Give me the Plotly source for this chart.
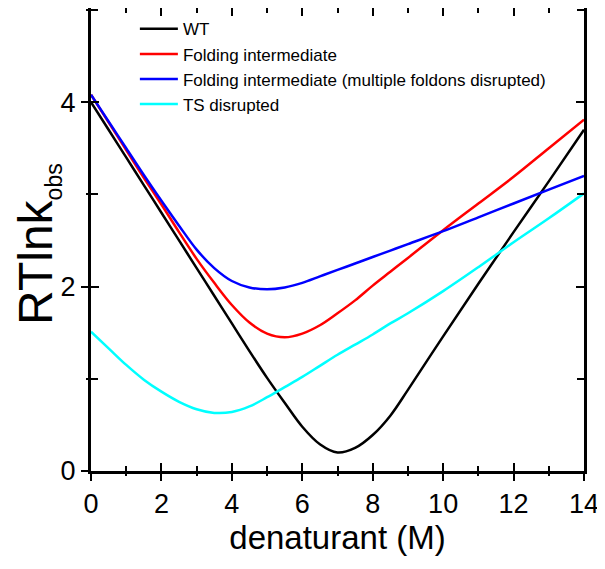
import plotly.graph_objects as go

# denaturant concentration (M)
denat = [0, 0.5, 1, 1.5, 2, 2.5, 3, 3.5, 4, 4.5, 5, 5.5, 6, 6.5, 7, 7.5, 8, 8.5, 9, 10, 11, 12, 13, 14]

wt = [4.00, 3.70, 3.40, 3.10, 2.80, 2.50, 2.20, 1.90, 1.60, 1.30, 1.01, 0.74, 0.48, 0.29, 0.20,
      0.25, 0.39, 0.60, 0.88, 1.46, 2.03, 2.59, 3.14, 3.70]
intermediate = [4.08, 3.78, 3.48, 3.18, 2.89, 2.59, 2.30, 2.04, 1.80, 1.61, 1.49, 1.45, 1.49, 1.58,
                1.71, 1.85, 2.01, 2.16, 2.31, 2.61, 2.90, 3.19, 3.50, 3.81]
multi_foldon = [4.08, 3.79, 3.50, 3.21, 2.93, 2.66, 2.40, 2.20, 2.06, 1.99, 1.97, 1.99, 2.04, 2.11,
                2.18, 2.25, 2.32, 2.39, 2.46, 2.60, 2.75, 2.90, 3.05, 3.20]
ts_disrupted = [1.51, 1.33, 1.15, 0.99, 0.86, 0.75, 0.67, 0.63, 0.64, 0.70, 0.80, 0.91, 1.02, 1.14,
                1.26, 1.37, 1.48, 1.60, 1.71, 1.95, 2.21, 2.48, 2.74, 3.01]

names = ["WT", "Folding intermediate", "Folding intermediate (multiple foldons disrupted)", "TS disrupted"]
colors = ["black", "#ff0000", "#0000ff", "#00ffff"]
series = [wt, intermediate, multi_foldon, ts_disrupted]

x_ticks = [0, 2, 4, 6, 8, 10, 12, 14]
y_ticks = [0, 2, 4]

font = "Liberation Sans, Arial, sans-serif"

fig = go.Figure()

for name, col, ys in zip(names, colors, series):
    fig.add_trace(go.Scatter(x=denat, y=ys, mode="lines", name=name,
                             line=dict(color=col, width=2.5, shape="spline", smoothing=1)))

# invisible trace so the overlay axes (inside ticks) get drawn
fig.add_trace(go.Scatter(x=denat[:1], y=wt[:1], mode="lines", xaxis="x2", yaxis="y2",
                         showlegend=False, hoverinfo="skip", line=dict(width=0)))

# page body has an 8px margin, so the figure is 8px smaller than the window
fig.update_layout(
    width=597, height=561,
    margin=dict(l=83, r=21, t=0, b=98),
    plot_bgcolor="white", paper_bgcolor="white",
    showlegend=True,
    legend=dict(x=0.089, y=0.993, xanchor="left", yanchor="top", bgcolor="rgba(0,0,0,0)",
                font=dict(family=font, size=17, color="black"), itemwidth=38,
                tracegroupgap=0),
    xaxis=dict(range=[0, 14], tickvals=x_ticks, ticks="outside", ticklen=9, tickwidth=2,
               tickcolor="black", showline=False, showgrid=False, zeroline=False,
               automargin=False,
               minor=dict(dtick=1, ticks="outside", ticklen=4, tickwidth=2, tickcolor="black"),
               tickfont=dict(family=font, size=27, color="black"),
               title=dict(text="denaturant (M)", font=dict(family=font, size=33, color="black"),
                          standoff=5)),
    yaxis=dict(range=[0, 5.02], tickvals=y_ticks, ticks="outside", ticklen=9, tickwidth=2,
               tickcolor="black", showline=False, showgrid=False, zeroline=False,
               automargin=False,
               minor=dict(dtick=1, ticks="outside", ticklen=4, tickwidth=2, tickcolor="black"),
               tickfont=dict(family=font, size=27, color="black")),
    xaxis2=dict(overlaying="x", anchor="y2", side="bottom", range=[0, 14], tickvals=x_ticks,
                ticks="inside", ticklen=8, tickwidth=2, tickcolor="black", showticklabels=False,
                showline=True, linewidth=2.5, linecolor="black", mirror="ticks",
                showgrid=False, zeroline=False, automargin=False,
                minor=dict(dtick=1, ticks="inside", ticklen=5, tickwidth=2, tickcolor="black")),
    yaxis2=dict(overlaying="y", anchor="x2", side="left", range=[0, 5.02], tickvals=y_ticks,
                ticks="inside", ticklen=8, tickwidth=2, tickcolor="black", showticklabels=False,
                showline=True, linewidth=2.5, linecolor="black", mirror="ticks",
                showgrid=False, zeroline=False, automargin=False,
                minor=dict(dtick=1, ticks="inside", ticklen=7, tickwidth=2, tickcolor="black")),
)

fig.add_annotation(text="RTlnk<sub><span style='font-size:23px'>obs</span></sub>",
                   xref="paper", yref="paper", x=-0.108, y=0.49, xanchor="center", yanchor="middle",
                   textangle=-90, showarrow=False,
                   font=dict(family=font, size=48, color="black"))

fig.write_html("out.html")
